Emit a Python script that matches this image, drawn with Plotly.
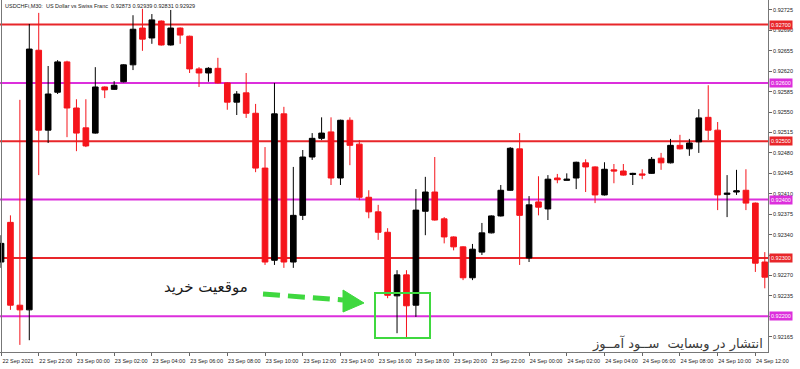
import plotly.graph_objects as go
import pandas as pd

# ---------------- data ----------------
times = pd.date_range("2021-09-22 20:00", periods=82, freq="30min")

opens = [0.92293, 0.92361, 0.92219, 0.92211, 0.92656, 0.92519, 0.92584, 0.92636, 0.92557, 0.92523,
         0.92514, 0.92593, 0.92589, 0.92602, 0.92631, 0.92694, 0.92677, 0.92706, 0.92665, 0.92694,
         0.92680, 0.92624, 0.92617, 0.92625, 0.92600, 0.92567, 0.92583, 0.92548, 0.92454, 0.92296,
         0.92547, 0.92293, 0.92373, 0.92473, 0.92505, 0.92516, 0.92437, 0.92536, 0.92495, 0.92404,
         0.92379, 0.92344, 0.92235, 0.92271, 0.92219, 0.92380, 0.92413, 0.92367, 0.92336, 0.92319,
         0.92266, 0.92310, 0.92343, 0.92372, 0.92416, 0.92487, 0.92300, 0.92396, 0.92384, 0.92437,
         0.92433, 0.92437, 0.92463, 0.92456, 0.92408, 0.92451, 0.92449, 0.92443, 0.92444, 0.92445,
         0.92471, 0.92463, 0.92493, 0.92487, 0.92499, 0.92541, 0.92519, 0.92409, 0.92413, 0.92416,
         0.92394, 0.92293]
highs = [0.92339, 0.92373, 0.92571, 0.92701, 0.92720, 0.92629, 0.92639, 0.92638, 0.92572, 0.92572,
         0.92627, 0.92594, 0.92603, 0.92632, 0.92716, 0.92727, 0.92718, 0.92707, 0.92725, 0.92695,
         0.92681, 0.92627, 0.92627, 0.92643, 0.92601, 0.92586, 0.92617, 0.92564, 0.92490, 0.92600,
         0.92559, 0.92456, 0.92485, 0.92514, 0.92541, 0.92541, 0.92537, 0.92541, 0.92502, 0.92416,
         0.92391, 0.92351, 0.92279, 0.92279, 0.92418, 0.92439, 0.92473, 0.92370, 0.92337, 0.92320,
         0.92324, 0.92360, 0.92373, 0.92425, 0.92490, 0.92514, 0.92406, 0.92440, 0.92442, 0.92444,
         0.92445, 0.92465, 0.92469, 0.92457, 0.92464, 0.92461, 0.92461, 0.92446, 0.92452, 0.92473,
         0.92480, 0.92504, 0.92511, 0.92504, 0.92555, 0.92596, 0.92533, 0.92442, 0.92451, 0.92452,
         0.92395, 0.92310]
lows = [0.92283, 0.92211, 0.92151, 0.92159, 0.92442, 0.92497, 0.92581, 0.92507, 0.92483, 0.92490,
        0.92513, 0.92574, 0.92588, 0.92601, 0.92622, 0.92655, 0.92667, 0.92664, 0.92664, 0.92667,
        0.92617, 0.92593, 0.92602, 0.92599, 0.92554, 0.92545, 0.92540, 0.92447, 0.92288, 0.92288,
        0.92283, 0.92283, 0.92365, 0.92468, 0.92502, 0.92425, 0.92425, 0.92459, 0.92399, 0.92368,
        0.92331, 0.92231, 0.92171, 0.92164, 0.92199, 0.92339, 0.92364, 0.92325, 0.92313, 0.92262,
        0.92262, 0.92305, 0.92342, 0.92371, 0.92415, 0.92288, 0.92293, 0.92373, 0.92365, 0.92428,
        0.92433, 0.92418, 0.92413, 0.92394, 0.92407, 0.92428, 0.92441, 0.92425, 0.92435, 0.92444,
        0.92451, 0.92462, 0.92486, 0.92475, 0.92480, 0.92502, 0.92382, 0.92370, 0.92408, 0.92382,
        0.92276, 0.92248]
closes = [0.92325, 0.92219, 0.92211, 0.92658, 0.92519, 0.92581, 0.92636, 0.92557, 0.92514, 0.92492,
          0.92593, 0.92588, 0.92596, 0.92631, 0.92692, 0.92675, 0.92708, 0.92665, 0.92694, 0.92682,
          0.92624, 0.92617, 0.92625, 0.92600, 0.92567, 0.92581, 0.92548, 0.92454, 0.92293, 0.92547,
          0.92293, 0.92373, 0.92473, 0.92505, 0.92514, 0.92437, 0.92536, 0.92493, 0.92404, 0.92379,
          0.92344, 0.92236, 0.92271, 0.92218, 0.92382, 0.92413, 0.92365, 0.92336, 0.92319, 0.92266,
          0.92315, 0.92343, 0.92372, 0.92416, 0.92488, 0.92373, 0.92391, 0.92387, 0.92435, 0.92434,
          0.92435, 0.92464, 0.92456, 0.92408, 0.92452, 0.92449, 0.92442, 0.92445, 0.92442, 0.92469,
          0.92463, 0.92493, 0.92487, 0.92497, 0.92540, 0.92519, 0.92408, 0.92411, 0.92415, 0.92394,
          0.92291, 0.92267]

red_levels = [0.92700, 0.92500, 0.92300]
magenta_levels = [0.92600, 0.92400, 0.92200]

price_ticks = [round(0.92725 - 0.00035 * k, 5) for k in range(17)]
time_tick_idx = list(range(0, 82, 4))
time_tick_text = ["22 Sep 2021"] + [times[i].strftime("%d %b %H:%M") for i in time_tick_idx[1:]]

header = "USDCHFi,M30:  US Dollar vs Swiss Franc  0.92873 0.92939 0.92831 0.92929"
buy_text = "موقعیت خرید"
watermark = "انتشار در وبسایت  ســود آمــوز"

# ---------------- styling ----------------
RED = "#e8262a"
MAG = "#dc2fdc"
CANDLE_RED = "#f5141b"
GREEN = "#3fd83f"
W, H = 800, 369
ML, MR, MT, MB = 0, 32, 0, 17
PW, PH = W - ML - MR, H - MT - MB

def px(x):
    return (x - ML) / PW

def py(y):
    return 1 - (y - MT) / PH

bar = pd.Timedelta(minutes=30)
x_range = [times[0] - bar * 0.106, times[0] + bar * 81.34]
y_range = [0.921388, 0.927421]

# tick labels hidden behind the level boxes (as in the reference)
levels = red_levels + magenta_levels
price_tick_text = ["" if any(abs(v - lv) < 0.00008 for lv in levels) else f"{v:.5f}" for v in price_ticks]

fig = go.Figure()
fig.add_trace(go.Candlestick(
    x=times, open=opens, high=highs, low=lows, close=closes,
    increasing=dict(fillcolor="#000000", line=dict(color="#000000", width=1)),
    decreasing=dict(fillcolor=CANDLE_RED, line=dict(color=CANDLE_RED, width=1)),
    whiskerwidth=0, hoverinfo="skip", showlegend=False,
))

shapes = []
for lv in red_levels:
    shapes.append(dict(type="line", xref="paper", x0=0, x1=1, yref="y", y0=lv, y1=lv,
                       line=dict(color=RED, width=2), layer="below"))
for lv in magenta_levels:
    shapes.append(dict(type="line", xref="paper", x0=0, x1=1, yref="y", y0=lv, y1=lv,
                       line=dict(color=MAG, width=2), layer="below"))
# left frame line
shapes.append(dict(type="line", xref="paper", yref="paper", x0=px(1.5), x1=px(1.5), y0=0, y1=1,
                   line=dict(color="#777", width=1)))
# green box
shapes.append(dict(type="rect", xref="paper", yref="paper", x0=px(375), x1=px(430), y0=py(338), y1=py(293),
                   line=dict(color=GREEN, width=2), fillcolor="rgba(0,0,0,0)"))
# green dashed arrow
shapes.append(dict(type="line", xref="paper", yref="paper", x0=px(263), y0=py(294), x1=px(343), y1=py(300),
                   line=dict(color=GREEN, width=5, dash="17px,8px")))
shapes.append(dict(type="path", xref="paper", yref="paper",
                   path=f"M {px(343)} {py(290)} L {px(364)} {py(303)} L {px(343)} {py(312)} Z",
                   fillcolor=GREEN, line=dict(color=GREEN, width=1)))

annotations = []
annotations.append(dict(text=header, xref="paper", yref="paper", x=px(3), y=py(1), xanchor="left", yanchor="top",
                        showarrow=False, font=dict(family="Liberation Sans", size=5.5, color="#222")))
for lv, col in [(l, RED) for l in red_levels] + [(l, MAG) for l in magenta_levels]:
    annotations.append(dict(text=f"{lv:.5f}", xref="paper", yref="y", x=1, y=lv, xanchor="left", yanchor="middle",
                            xshift=1, showarrow=False, bgcolor=col, borderpad=1,
                            font=dict(family="Liberation Sans", size=5.5, color="white")))
annotations.append(dict(text=buy_text, xref="paper", yref="paper", x=px(250), y=py(287), xanchor="right",
                        yanchor="middle", showarrow=False,
                        font=dict(family="DejaVu Sans", size=15, color="#1a1a1a")))
annotations.append(dict(text=watermark, xref="paper", yref="paper", x=px(765), y=py(343), xanchor="right",
                        yanchor="middle", showarrow=False,
                        font=dict(family="DejaVu Sans", size=13, color="#3a3a3a")))

fig.update_layout(
    width=W, height=H,
    margin=dict(l=ML, r=MR, t=MT, b=MB),
    paper_bgcolor="white", plot_bgcolor="white",
    boxgap=0.2, boxgroupgap=0.25,
    shapes=shapes, annotations=annotations,
    xaxis=dict(type="date", range=x_range, rangeslider=dict(visible=False), showgrid=False, zeroline=False,
               tickvals=[times[i] for i in time_tick_idx], ticktext=time_tick_text,
               ticks="outside", ticklen=3, tickcolor="#666", showline=True, linecolor="#777", linewidth=1,
               tickfont=dict(family="Liberation Sans", size=5.5, color="#222"), ticklabelshift=17),
    yaxis=dict(side="right", range=y_range, showgrid=False, zeroline=False,
               tickvals=price_ticks, ticktext=price_tick_text,
               ticks="outside", ticklen=3, tickcolor="#666", showline=True, linecolor="#777", linewidth=1,
               tickfont=dict(family="Liberation Sans", size=5.5, color="#222")),
)

fig.write_html("out.html")
